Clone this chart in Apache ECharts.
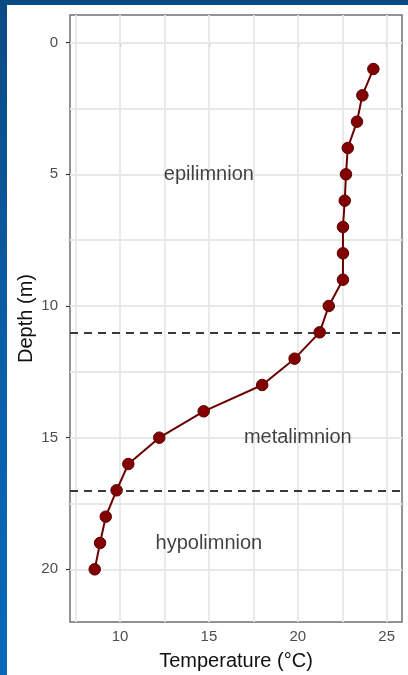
<!DOCTYPE html>
<html>
<head>
<meta charset="utf-8">
<script src="https://cdn.jsdelivr.net/npm/echarts@6/dist/echarts.min.js"></script>
<style>
  html, body { margin: 0; padding: 0; width: 408px; height: 675px; overflow: hidden; }
  body { background: linear-gradient(to bottom, #0b4a84 0%, #0a5ea6 50%, #0868b8 100%); position: relative; }
  #chart { position: absolute; left: 7px; top: 5px; width: 401px; height: 670px; background: #ffffff; }
</style>
</head>
<body>
<div id="chart"></div>
<script>
// Data
const depth = [1, 2, 3, 4, 5, 6, 7, 8, 9, 10, 11, 12, 13, 14, 15, 16, 17, 18, 19, 20];
const temperature = [24.25, 23.63, 23.33, 22.81, 22.71, 22.64, 22.54, 22.54, 22.54, 21.74,
                     21.23, 19.82, 18.0, 14.71, 12.21, 10.47, 9.81, 9.2, 8.88, 8.58];
const layerBounds = [11, 17];
const layerNames = ['epilimnion', 'metalimnion', 'hypolimnion'];
const layerLabelTemp = [15, 20, 15];
const layerLabelDepth = [5, 15, 19];
const xTicks = [10, 15, 20, 25];
const yTicks = [0, 5, 10, 15, 20];
const xGrid = [7.5, 10, 12.5, 15, 17.5, 20, 22.5, 25];
const yGrid = [0, 2.5, 5, 7.5, 10, 12.5, 15, 17.5, 20];

const chart = echarts.init(document.getElementById('chart'), null, { renderer: 'canvas' });
const font = 'Liberation Sans, Arial, sans-serif';

const gridLines = [];
xGrid.forEach(v => gridLines.push({ xAxis: v }));
yGrid.forEach(v => gridLines.push({ yAxis: v }));

chart.setOption({
  animation: false,
  backgroundColor: '#ffffff',
  grid: {
    left: 63, top: 10, right: 6, bottom: 53,
    containLabel: false, outerBoundsMode: 'none',
    show: true, backgroundColor: '#ffffff', borderColor: '#707070', borderWidth: 1.5
  },
  xAxis: {
    type: 'value', min: 7.19, max: 25.86,
    name: 'Temperature (°C)', nameLocation: 'middle', nameGap: 29,
    nameTextStyle: { fontFamily: font, fontSize: 20, color: '#111111' },
    axisLine: { show: false },
    axisTick: { show: true, length: 4, customValues: xTicks, lineStyle: { color: '#333333', width: 1.2 } },
    axisLabel: { customValues: xTicks, margin: 7, fontFamily: font, fontSize: 15, color: '#4d4d4d' },
    splitLine: { show: false }
  },
  yAxis: {
    type: 'value', inverse: true, min: -1.05, max: 22.0,
    name: 'Depth (m)', nameLocation: 'middle', nameGap: 34, nameRotate: 90,
    nameMoveOverlap: false,
    nameTextStyle: { fontFamily: font, fontSize: 20, color: '#111111' },
    axisLine: { show: false },
    axisTick: { show: true, length: 4, customValues: yTicks, lineStyle: { color: '#333333', width: 1.2 } },
    axisLabel: { customValues: yTicks, margin: 12, fontFamily: font, fontSize: 15, color: '#4d4d4d' },
    splitLine: { show: false }
  },
  series: [
    {
      type: 'line', data: [], z: 1, silent: true,
      markLine: {
        z: 1, silent: true, symbol: ['none', 'none'], label: { show: false },
        lineStyle: { color: '#e8e8e8', width: 1.8, type: 'solid' },
        emphasis: { disabled: true },
        data: gridLines
      }
    },
    {
      type: 'line', data: [], z: 3, silent: true,
      markLine: {
        z: 3, silent: true, symbol: ['none', 'none'], label: { show: false },
        lineStyle: { color: '#3a3a3a', width: 2, type: [8, 6] },
        emphasis: { disabled: true },
        data: layerBounds.map(v => ({ yAxis: v }))
      }
    },
    {
      type: 'scatter', z: 6, silent: true, symbolSize: 0,
      data: layerNames.map((n, i) => ({ value: [layerLabelTemp[i], layerLabelDepth[i]], name: n })),
      label: {
        show: true, position: 'inside', formatter: p => p.name,
        fontFamily: font, fontSize: 20, color: '#111111'
      },
      emphasis: { disabled: true }
    },
    {
      type: 'line', z: 5,
      data: depth.map((d, i) => [temperature[i], d]),
      symbol: 'circle', symbolSize: 11.5,
      lineStyle: { color: '#6b0000', width: 2 },
      itemStyle: { color: '#820000', borderColor: '#5a0000', borderWidth: 1 }
    }
  ]
});
</script>
</body>
</html>
